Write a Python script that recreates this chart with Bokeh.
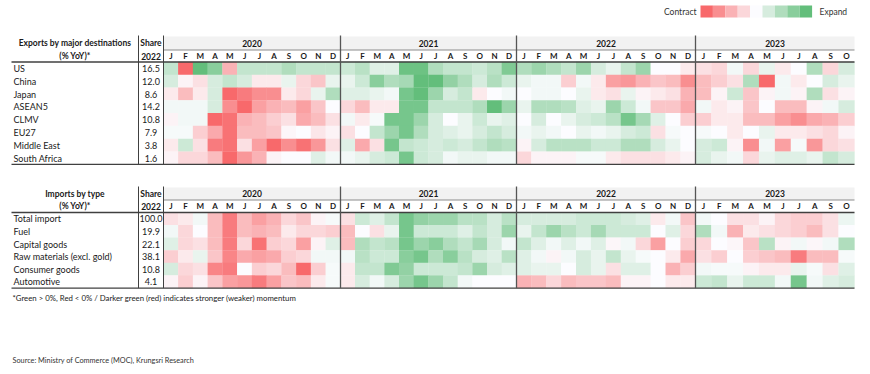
import numpy as np
from bokeh.plotting import figure
from bokeh.models import ColumnDataSource, LinearColorMapper, Range1d
from bokeh.transform import transform
from bokeh.core.properties import value
from bokeh.embed import file_html
from bokeh.resources import INLINE

# ---------------- data (momentum score: <0 contract, >0 expand) ----------------
years = ["2020", "2021", "2022", "2023"]
year_months = [list("JFMAMJJASOND"), list("JFMAMJJASOND"), list("JFMAMJJASOND"), list("JFMAMJJASO")]

export_labels = ["US", "China", "Japan", "ASEAN5", "CLMV", "EU27", "Middle East", "South Africa"]
export_share = ["16.5", "12.0", "8.6", "14.2", "10.8", "7.9", "3.8", "1.6"]
exp_us = [3, -9, 9, 6, -4, 3, 3, 3, 4, 3, 3, 3,
          2.5, 3.5, 1.5, 1.5, 7.5, 7.5, 4, 3, 3, 2.5, 3.5, 6.5,
          4, 5, 4, 3, 5, 2, 1, 3, 5, 0, 0, -1,
          -1.5, -2, 0.5, -2, 1, -1, 0, 4, -2, 2]
exp_china = [2, -0.5, -1.5, 2, 3, 2, -1, -1, 1, -2, -3, 1,
             1, 2.5, 6, 4, 4.5, 8, 8, 5.5, 4, 2, 4, 2.5,
             1, 0.5, 0.5, -2.5, 0.5, -1, -5, -5.5, -4, -3, -3.5, -6,
             -3.5, -2.5, -1.5, 4, -8, 0.5, -1, 0, 2, 1]
exp_japan = [-1, -3.5, -1, 2, -8, -7, -6, -6, -1, -2, 1, 4,
             1.5, 1.5, 1, 0.5, 7, 8, 5, 2, 3, -1, 0, 0.5,
             0, 0.5, 0.5, 0, 1, -1, -1.5, 1, -0.5, -1, -1.5, -4,
             -3.5, -0.5, 2.5, -3, -0.5, 0.5, -0.5, 4, -1.5, -0.5]
exp_asean5 = [0.5, 0.5, 0.5, 2, -6, -8, -5, -4, -3.5, -5, -3, 0,
              -2, -3.5, -1, -1, 7, 7, 3, 3, 3, 4, 8, 5,
              1, 4, 4, 3.5, 1.5, 1, 5, 2.5, 0.5, -3, -3, -4.5,
              0.5, -1, -0.5, -3, 0, -3.5, -3.5, -0.5, 0.5, 2]
exp_clmv = [-0.5, 0.5, 0.5, -8, -7.5, -4, -3.5, -2.5, -1.5, -4.5, -3.5, -1.5,
            0.5, -1, 0.3, 7, 7, 5, 2, 0, 1, 2.5, 1, 1.5,
            0, 2, 0, 1, 2, 2.5, 3.5, 7, 4.5, 1.5, 0, -2.5,
            -2.5, -1, -1, -3.5, -3.5, -5, -6, -4.5, -4, -2.5]
exp_eu27 = [0.3, 0.3, -2.5, -4.5, -7.5, -3.5, -3.5, -3, -0.3, 0, -1.2, -0.5,
            -1.5, 0, 3, 5, 7, 4, 2, 1.5, 1, 2, 3, 2,
            0.5, 1, 0.5, 0, 1, 0.5, 1, 2, 2.5, -1.5, 0.3, 0,
            0.3, 0, -1, 0, 1, -1, -1, -1.5, -2, -0.5]
exp_mideast = [-1, 2.5, -1.5, -7, -7.5, -1.5, -5, -8, -6, -7.5, -5.5, -1.5,
               1.5, -4.5, -1.5, 7, 3, 2.5, 2, 2.5, 2, 3, 4, 3.5,
               -0.5, 2, 3.5, 3.5, 3.5, 2.5, 2.5, 4, 4, 2, 1, 0,
               2, 2.5, -0.5, -6, 0.5, -5, 0.3, -5.5, -2, -1.5]
exp_safrica = [-0.5, -2, -2, -3.5, -8, -5.5, -4, -0.5, 0, 0, 1.5, 0.5,
               0.5, 1, 2, 2.5, 7, 2.5, 2, 0.5, 1, 1, 0.5, 0.5,
               -2, -0.5, -0.5, -0.5, 0.3, 0.3, -1, -1.5, -1.5, -1.5, -1, -0.5,
               2, 1, 0.5, -2, 1, 1.5, 1.5, 1, 3, 2]
export_values = [exp_us, exp_china, exp_japan, exp_asean5, exp_clmv, exp_eu27, exp_mideast, exp_safrica]

import_labels = ["Total import", "Fuel", "Capital goods", "Raw materials (excl. gold)", "Consumer goods", "Automotive"]
import_share = ["100.0", "19.9", "22.1", "38.1", "10.8", "4.1"]
imp_total = [-1.5, -1, 0.5, -3.5, -7, -3.5, -5, -4, -2, -3, -0.5, 0.3,
             -1.5, 2.5, 1.5, 3, 7, 5.5, 5, 5, 3.5, 3.5, 2, 3.5,
             2, 2, 2, 2, 2.5, 2.5, 2.5, 2, 1.5, -1, 0.5, -3,
             0.5, 0, -1.5, -1.5, -0.5, -2, -2.5, -2.5, -1.5, 0.8]
imp_fuel = [0.5, -2, 0, -3.5, -7, -3.5, -4, -3.5, -1, -2, -2, -2.5,
            -3.5, 0, -1.5, 1, 7, 2.5, 2.5, 2.5, 1.5, 3, 2, 5,
            1, 3, 5, 3.5, 2.5, 4.5, 2.5, 2.5, 2.5, 0, 1.5, -2,
            4, 0.5, -4, -1, -1.5, -2, -2.5, -3.5, -1.5, 0]
imp_capital = [1.5, -2, -1.5, -3.5, -7, -2, -7.5, -2.5, -2, -5, -0.5, 1.5,
               -3.5, 4, 3, 3.5, 7, 5, 6, 4, 3, 4.5, 2, 0.5,
               3, 1.5, 0.5, 1.5, 0.5, 1.5, -0.3, 0.5, -2, -5, 0, -2.5,
               -2, 0, -0.3, -3, 3.5, -0.5, 0.5, -0.3, 0.5, 4]
imp_raw = [-2.5, -1, 1, -3, -6.5, -4.5, -5, -4.5, -2.5, -2, 0.5, 0.5,
           0.5, 3.5, 2.5, 2.5, 6, 7, 4, 6, 3.5, 2, 1.5, 3.5,
           1.5, 0.5, -0.5, 0.5, 2, 1, 3, 1, 0.3, 0, -1, -4.5,
           -1.5, -2.5, 0, -2.5, -3, -3.5, -7, -3.5, -3.5, 0.3]
imp_consumer = [2, -2, -1.5, -6.5, -7, 0, -2.5, -2, -3.5, -8, -2.5, 0.3,
                -1, 3, 3, 6.5, 5.5, 2.5, 2.5, 2.5, 3, 5, 2, 1.5,
                1.5, 1, 1, 0, 2, 1, -1.5, 1.5, 1.5, 0, -4, -2.5,
                0.5, 0.3, 0.3, -0.5, -1, -1, 1, 0.3, -1.5, 1.5]
imp_auto = [-0.5, -2.5, -0.5, -3, -5, -5.5, -7, -5, -3, -3.5, -1, 0.3,
            -1, 2, 0.5, 2, 5, 7, 5, 3, 0.5, 0, 0, 0,
            -4, -3.5, -2, -3.5, -3, -3, -3.5, -0.5, -0.5, 0, -1, -1,
            2.5, 3, 1, 2.5, 2.5, 0.5, 7, 0.5, 1.5, 2]
import_values = [imp_total, imp_fuel, imp_capital, imp_raw, imp_consumer, imp_auto]

legend_levels = [-8, -6, -4, -2, 0, 2, 4, 6, 8]

# ---------------- colour scale (red - white - green) ----------------
red = np.array([248, 105, 107]); white = np.array([252, 252, 255]); green = np.array([99, 190, 123])
palette = []
for t in np.linspace(-1, 1, 257):
    c = white + (red - white) * (-t) if t < 0 else white + (green - white) * t
    palette.append("#%02x%02x%02x" % tuple(int(round(v)) for v in c))
mapper = LinearColorMapper(palette=palette, low=-8, high=8)

FONT = value("Lato")

p = figure(width=870, height=374, x_range=Range1d(0, 870), y_range=Range1d(374, 0),
           output_backend="svg", toolbar_location=None, min_border=0,
           outline_line_color=None, background_fill_color="white")
p.axis.visible = False
p.grid.visible = False

# column geometry
L_LEFT, L_SPLIT, S_SPLIT = 11, 138, 163
year_edges = [163, 340, 516, 695, 854]
col_x, col_w = [], []
for k, ms in enumerate(year_months):
    w = (year_edges[k + 1] - year_edges[k]) / len(ms)
    for i in range(len(ms)):
        col_x.append(year_edges[k] + (i + 0.5) * w)
        col_w.append(w)
month_letters = [m for ms in year_months for m in ms]


def draw_table(title1, title2, labels, shares, values, band_top, band_bot, hdr_bot, row_h):
    n = len(labels)
    rows_bot = hdr_bot + n * row_h
    # year band
    p.quad(left=[S_SPLIT], right=[year_edges[-1]], top=[band_top], bottom=[band_bot],
           fill_color="#f2f2f2", line_color=None)
    # cells
    xs, ys, ws, vs = [], [], [], []
    for r, rowvals in enumerate(values):
        for c, v in enumerate(rowvals):
            xs.append(col_x[c]); ws.append(col_w[c] + 0.3)
            ys.append(hdr_bot + (r + 0.5) * row_h); vs.append(v)
    src = ColumnDataSource(dict(x=xs, y=ys, w=ws, v=vs))
    p.rect(x="x", y="y", width="w", height=row_h + 0.3, source=src,
           fill_color=transform("v", mapper), line_color=None)
    # lines
    p.segment(x0=[S_SPLIT], y0=[band_bot], x1=[year_edges[-1]], y1=[band_bot],
              line_color="#8c8c8c", line_width=1)
    p.segment(x0=[L_LEFT, L_LEFT], y0=[hdr_bot, rows_bot], x1=[year_edges[-1]] * 2,
              y1=[hdr_bot, rows_bot], line_color="#404040", line_width=1.3)
    p.segment(x0=[L_SPLIT, S_SPLIT], y0=[band_top - 1] * 2, x1=[L_SPLIT, S_SPLIT],
              y1=[rows_bot] * 2, line_color="#404040", line_width=1)
    p.segment(x0=year_edges[1:-1], y0=[band_top - 1] * 3, x1=year_edges[1:-1],
              y1=[rows_bot] * 3, line_color="#555555", line_width=1.3)
    # header texts
    ymid1 = (band_top + band_bot) / 2
    ymid2 = (band_bot + hdr_bot) / 2
    p.text(x=[(L_LEFT + L_SPLIT) / 2] * 2 + [(L_SPLIT + S_SPLIT) / 2] * 2,
           y=[ymid1, ymid2, ymid1, ymid2], text=[title1, title2, "Share", "2022"],
           text_font=FONT, text_font_style="bold", text_font_size="8.5px",
           text_align="center", text_baseline="middle", text_color="#1a1a1a")
    p.text(x=[(year_edges[k] + year_edges[k + 1]) / 2 for k in range(4)], y=[ymid1] * 4,
           text=years, text_font=FONT, text_font_style="bold", text_font_size="8.5px",
           text_align="center", text_baseline="middle", text_color="#1a1a1a")
    p.text(x=col_x, y=[ymid2] * len(col_x), text=month_letters, text_font=FONT,
           text_font_style="bold", text_font_size="8px", text_align="center",
           text_baseline="middle", text_color="#1a1a1a")
    # row labels
    ry = [hdr_bot + (r + 0.5) * row_h for r in range(n)]
    p.text(x=[L_LEFT + 2] * n, y=ry, text=labels, text_font=FONT, text_font_size="9px",
           text_align="left", text_baseline="middle", text_color="#1a1a1a")
    p.text(x=[(L_SPLIT + S_SPLIT) / 2] * n, y=ry, text=shares, text_font=FONT,
           text_font_size="9px", text_align="center", text_baseline="middle",
           text_color="#1a1a1a")


draw_table("Exports by major destinations", "(% YoY)*", export_labels, export_share,
           export_values, 36, 49.5, 61.5, 12.8)
draw_table("Imports by type", "(% YoY)*", import_labels, import_share,
           import_values, 187, 199.5, 212, 12.6)

# legend
lw = 12.4
lx = [700 + (i + 0.5) * lw for i in range(len(legend_levels))]
leg_src = ColumnDataSource(dict(x=lx, y=[11] * len(lx), v=legend_levels))
p.rect(x="x", y="y", width=lw, height=12, source=leg_src,
       fill_color=transform("v", mapper), line_color=None)
p.text(x=[696], y=[11.5], text=["Contract"], text_font=FONT, text_font_size="8.5px",
       text_align="right", text_baseline="middle", text_color="#333333")
p.text(x=[819], y=[11.5], text=["Expand"], text_font=FONT, text_font_size="8.5px",
       text_align="left", text_baseline="middle", text_color="#333333")

# footnote & source
p.text(x=[12], y=[297.5], text=["*Green > 0%, Red < 0% / Darker green (red) indicates stronger (weaker) momentum"],
       text_font=FONT, text_font_size="7.8px", text_align="left", text_baseline="middle",
       text_color="#1a1a1a")
p.text(x=[12], y=[360], text=["Source: Ministry of Commerce (MOC), Krungsri Research"],
       text_font=FONT, text_font_size="7.3px", text_align="left", text_baseline="middle",
       text_color="#333333")

open("out.html", "w").write(file_html(p, INLINE))
